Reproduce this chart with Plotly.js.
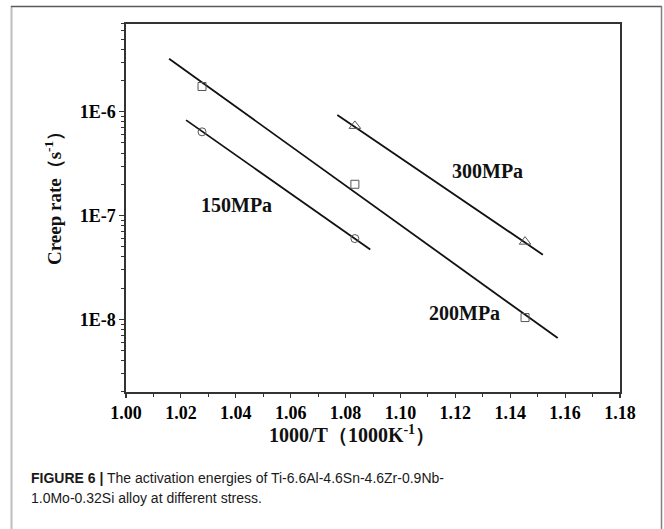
<!DOCTYPE html>
<html>
<head>
<meta charset="utf-8">
<script src="https://cdn.plot.ly/plotly-3.0.1.min.js"></script>
<style>html,body{margin:0;padding:0;background:#fff;}#chart{width:664px;height:529px;}</style>
</head>
<body>
<div id="chart"></div>
<script>
// ---- data ----
const invT150 = [1.0277, 1.0834];
const rate150 = [6.4e-7, 6.0e-8];
const invT200 = [1.0277, 1.0834, 1.1454];
const rate200 = [1.75e-6, 2.0e-7, 1.04e-8];
const invT300 = [1.0834, 1.1454];
const rate300 = [7.3e-7, 5.6e-8];

// fitted lines (end points)
const fitX150 = [1.0219, 1.0890];
const fitY150 = [8.3e-7, 4.7e-8];
const fitX200 = [1.0157, 1.1573];
const fitY200 = [3.24e-6, 6.6e-9];
const fitX300 = [1.0770, 1.1519];
const fitY300 = [9.3e-7, 4.2e-8];

const stressLabels = ['150MPa', '200MPa', '300MPa'];
const labelX = [1.0401, 1.1232, 1.1319];
const labelY = [1.26e-7, 1.14e-8, 2.7e-7];

const xTickVals = [1.00, 1.02, 1.04, 1.06, 1.08, 1.10, 1.12, 1.14, 1.16, 1.18];
const xTickText = ['1.00', '1.02', '1.04', '1.06', '1.08', '1.10', '1.12', '1.14', '1.16', '1.18'];
const yTickVals = [1e-8, 1e-7, 1e-6];
const yTickText = ['1E-8', '1E-7', '1E-6'];

const xTitle = '1000/T（1000K<sup>-1</sup>）';
const yTitle = 'Creep rate（s<sup>-1</sup>）';
const caption1 = '<b>FIGURE 6 |</b> The activation energies of Ti-6.6Al-4.6Sn-4.6Zr-0.9Nb-';
const caption2 = '1.0Mo-0.32Si alloy at different stress.';

// ---- geometry / style ----
const W = 664, H = 529;
const L = 126, R = 620, T = 24, B = 392;
const pw = R - L, ph = B - T;
const px = v => (v - L) / pw;
const py = v => (B - v) / ph;

const serif = 'Liberation Serif, Times New Roman, serif';
const sans = 'Liberation Sans Narrow, Liberation Sans, Arial, sans-serif';
const markerColor = '#555';

const minorVals = [];
for (let e = -9; e <= -6; e++) {
  for (let m = 2; m <= 9; m++) minorVals.push(m * Math.pow(10, e));
}
const bold = a => a.map(s => '<b>' + s + '</b>');

function pts(x, y, sym, size) {
  return {x: x, y: y, type: 'scatter', mode: 'markers', showlegend: false,
    marker: {symbol: sym, size: size, color: markerColor, line: {color: markerColor, width: 1}}};
}
function fit(x, y) {
  return {x: x, y: y, type: 'scatter', mode: 'lines', showlegend: false,
    line: {color: '#111', width: 1.8}};
}

const data = [
  fit(fitX150, fitY150), fit(fitX200, fitY200), fit(fitX300, fitY300),
  pts(invT150, rate150, 'circle-open', 8),
  pts(invT200, rate200, 'square-open', 8),
  pts(invT300, rate300, 'triangle-up-open', 10)
];

const annotations = stressLabels.map((t, i) => ({
  x: labelX[i], y: Math.log10(labelY[i]), xref: 'x', yref: 'y', text: '<b>' + t + '</b>',
  showarrow: false, font: {family: serif, size: 20, color: '#111'}
}));
annotations.push({
  xref: 'paper', yref: 'paper', x: px(352), y: py(434), xanchor: 'center', yanchor: 'middle',
  showarrow: false, text: '<b>' + xTitle + '</b>',
  font: {family: serif, size: 20, color: '#111'}
});
annotations.push({
  xref: 'paper', yref: 'paper', x: px(53), y: py(194), xanchor: 'center', yanchor: 'middle',
  showarrow: false, textangle: -90, text: '<b>' + yTitle + '</b>',
  font: {family: serif, size: 19, color: '#111'}
});
annotations.push({
  xref: 'paper', yref: 'paper', x: px(29), y: py(478), xanchor: 'left', yanchor: 'middle',
  showarrow: false, align: 'left', text: caption1,
  font: {family: sans, size: 14, color: '#1a1a1a'}
});
annotations.push({
  xref: 'paper', yref: 'paper', x: px(29), y: py(498), xanchor: 'left', yanchor: 'middle',
  showarrow: false, align: 'left', text: caption2,
  font: {family: sans, size: 14, color: '#1a1a1a'}
});

const shapes = [
  {type: 'line', xref: 'paper', yref: 'paper', x0: px(11.5), x1: px(11.5), y0: py(6), y1: py(540), line: {color: '#bdbdbd', width: 2}},
  {type: 'line', xref: 'paper', yref: 'paper', x0: px(11), x1: px(662), y0: py(6.5), y1: py(6.5), line: {color: '#5a5a5a', width: 1.5}},
  {type: 'line', xref: 'paper', yref: 'paper', x0: px(661.5), x1: px(661.5), y0: py(6), y1: py(540), line: {color: '#808080', width: 1.5}}
];

const layout = {
  width: W, height: H,
  margin: {l: L, r: W - R, t: T, b: H - B, pad: 0},
  paper_bgcolor: '#fff', plot_bgcolor: '#fff',
  showlegend: false,
  xaxis: {
    range: [1.0, 1.18], tickmode: 'array', tickvals: xTickVals, ticktext: bold(xTickText),
    showgrid: false, zeroline: false,
    showline: true, mirror: true, linecolor: '#333', linewidth: 1.6,
    ticks: 'outside', ticklen: 4, tickwidth: 1.2, tickcolor: '#333',
    minor: {dtick: 0.01, tick0: 1.0, ticks: 'outside', ticklen: 3, tickwidth: 1, tickcolor: '#333', showgrid: false},
    tickfont: {family: serif, size: 18, color: '#000', weight: 'bold'}
  },
  yaxis: {
    type: 'log', range: [-8.70, -5.155],
    tickmode: 'array', tickvals: yTickVals, ticktext: bold(yTickText),
    showgrid: false, zeroline: false,
    showline: true, mirror: true, linecolor: '#333', linewidth: 1.6,
    ticks: 'outside', ticklen: 5, tickwidth: 1.2, tickcolor: '#333',
    minor: {tickmode: 'array', tickvals: minorVals, ticks: 'outside', ticklen: 3, tickwidth: 1, tickcolor: '#333', showgrid: false},
    tickfont: {family: serif, size: 18, color: '#000', weight: 'bold'}
  },
  annotations: annotations,
  shapes: shapes
};

Plotly.newPlot('chart', data, layout, {displayModeBar: false, staticPlot: true});
</script>
</body>
</html>
